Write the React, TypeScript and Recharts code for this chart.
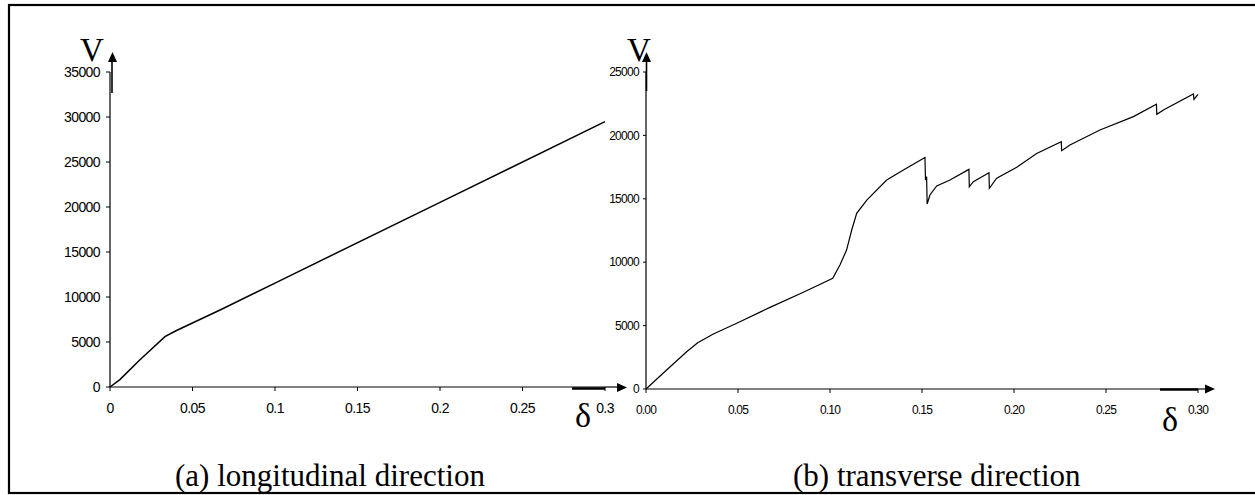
import { Line, LineChart, XAxis, YAxis } from 'recharts'

// (a) longitudinal direction
const longDelta = [0, 0.006, 0.018, 0.0333, 0.04, 0.0667, 0.1, 0.2, 0.3]
const longV = [0, 820, 3000, 5590, 6250, 8560, 11550, 20520, 29480]
const longXTicks = [0, 0.05, 0.1, 0.15, 0.2, 0.25, 0.3]
const longYTicks = [0, 5000, 10000, 15000, 20000, 25000, 30000, 35000]

// (b) transverse direction
const transDelta = [
  0, 0.0112, 0.0221, 0.0281, 0.0366, 0.0493, 0.0674, 0.0855, 0.1015, 0.1054, 0.109, 0.1118,
  0.1145, 0.12, 0.1308, 0.1399, 0.1516, 0.1519, 0.1525, 0.1528, 0.1543, 0.158, 0.1652, 0.1755,
  0.1757, 0.1779, 0.1864, 0.1866, 0.1906, 0.2015, 0.2123, 0.2257, 0.2259, 0.2304, 0.2467,
  0.2649, 0.2774, 0.2776, 0.2812, 0.2975, 0.2978, 0.3,
]
const transV = [
  0, 1500, 2940, 3650, 4340, 5180, 6440, 7630, 8730, 9780, 10960, 12540, 13850, 14900, 16480,
  17270, 18250, 16480, 16750, 14590, 15300, 16010, 16480, 17320, 15950, 16350, 17060, 15830,
  16620, 17480, 18580, 19500, 18790, 19240, 20430, 21480, 22450, 21660, 22000, 23260, 22840,
  23240,
]
const transXTicks = [0, 0.05, 0.1, 0.15, 0.2, 0.25, 0.3]
const transYTicks = [0, 5000, 10000, 15000, 20000, 25000]

const longData = longDelta.map((d, i) => ({ d, v: longV[i] }))
const transData = transDelta.map((d, i) => ({ d, v: transV[i] }))

const serif = '"Liberation Serif", "Times New Roman", serif'
const sans = '"Liberation Sans", Arial, sans-serif'

export default function App() {
  return (
    <div
      style={{
        position: 'absolute',
        left: 0,
        top: 0,
        width: 1255,
        height: 495,
        background: '#fff',
        overflow: 'hidden',
      }}
    >
      <div style={{ position: 'absolute', left: 0, top: 0 }}>
        <LineChart
          width={640}
          height={420}
          data={longData}
          margin={{ top: 72, right: 35, bottom: 3, left: 0 }}
        >
          <XAxis
            dataKey="d"
            type="number"
            domain={[0, 0.3]}
            ticks={longXTicks}
            tickFormatter={(v: number) => String(v)}
            height={30}
            tickSize={4}
            tickMargin={12}
            axisLine={{ stroke: '#000', strokeWidth: 1.2 }}
            tickLine={{ stroke: '#000' }}
            tick={{ fill: '#000', fontSize: 14, fontFamily: sans, letterSpacing: -0.6 }}
          />
          <YAxis
            type="number"
            domain={[0, 35000]}
            ticks={longYTicks}
            width={110}
            tickSize={4}
            tickMargin={6}
            axisLine={{ stroke: '#000', strokeWidth: 1.2 }}
            tickLine={{ stroke: '#000' }}
            tick={{ fill: '#000', fontSize: 14, fontFamily: sans, letterSpacing: -0.6 }}
          />
          <Line
            dataKey="v"
            type="linear"
            stroke="#000"
            strokeWidth={1.5}
            dot={false}
            isAnimationActive={false}
          />
        </LineChart>
      </div>

      <div style={{ position: 'absolute', left: 600, top: 0 }}>
        <LineChart
          width={640}
          height={420}
          data={transData}
          margin={{ top: 72, right: 42, bottom: 1, left: 0 }}
        >
          <XAxis
            dataKey="d"
            type="number"
            domain={[0, 0.3]}
            ticks={transXTicks}
            tickFormatter={(v: number) => v.toFixed(2)}
            height={30}
            tickSize={4}
            tickMargin={12}
            axisLine={{ stroke: '#000', strokeWidth: 1.2 }}
            tickLine={{ stroke: '#000' }}
            tick={{ fill: '#000', fontSize: 12, fontFamily: sans, letterSpacing: -0.8 }}
          />
          <YAxis
            type="number"
            domain={[0, 25000]}
            ticks={transYTicks}
            width={46}
            tickSize={3}
            tickMargin={4}
            axisLine={{ stroke: '#000', strokeWidth: 1.2 }}
            tickLine={{ stroke: '#000' }}
            tick={{ fill: '#000', fontSize: 12, fontFamily: sans, letterSpacing: -0.7 }}
          />
          <Line
            dataKey="v"
            type="linear"
            stroke="#000"
            strokeWidth={1.2}
            dot={false}
            isAnimationActive={false}
          />
        </LineChart>
      </div>

      {/* frame, axis arrows and symbols */}
      <svg
        width={1255}
        height={495}
        style={{ position: 'absolute', left: 0, top: 0, pointerEvents: 'none' }}
      >
        <rect x={9} y={5} width={1270} height={488} fill="none" stroke="#000" strokeWidth={2.2} />

        <line x1={112} y1={93} x2={112} y2={60} stroke="#000" strokeWidth={1.6} />
        <polygon points="112.5,52 108,62 117,62" fill="#000" />
        <line x1={605} y1={387} x2={618} y2={387} stroke="#000" strokeWidth={1.2} />
        <polygon points="627,387.5 617,383 617,392" fill="#000" />
        <line x1={572} y1={388.5} x2={605} y2={388.5} stroke="#000" strokeWidth={2.5} />

        <line x1={646.5} y1={91} x2={646.5} y2={60} stroke="#000" strokeWidth={1.6} />
        <polygon points="646.5,52 642,62 651,62" fill="#000" />
        <line x1={1198} y1={389} x2={1207} y2={389} stroke="#000" strokeWidth={1.2} />
        <polygon points="1215,389 1205,384.5 1205,393.5" fill="#000" />
        <line x1={1160} y1={389.5} x2={1198} y2={389.5} stroke="#000" strokeWidth={2.5} />

        <text x={80} y={61} fontFamily={serif} fontSize={33} fill="#000">
          V
        </text>
        <text x={627} y={61} fontFamily={serif} fontSize={33} fill="#000">
          V
        </text>
        <text x={575} y={427} fontFamily={serif} fontSize={34} fill="#000">
          δ
        </text>
        <text x={1162} y={431} fontFamily={serif} fontSize={34} fill="#000">
          δ
        </text>

        <text x={175} y={486} fontFamily={serif} fontSize={31} fill="#000">
          (a) longitudinal direction
        </text>
        <text x={793} y={486} fontFamily={serif} fontSize={31} fill="#000">
          (b) transverse direction
        </text>
      </svg>
    </div>
  )
}
